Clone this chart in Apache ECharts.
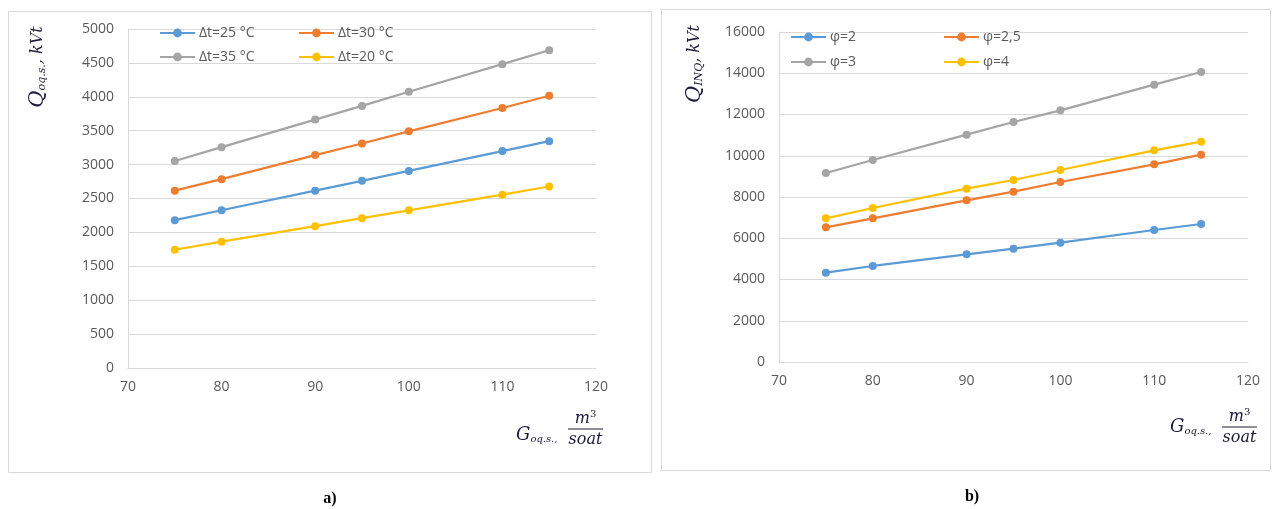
<!DOCTYPE html>
<html>
<head>
<meta charset="utf-8">
<script src="https://cdn.jsdelivr.net/npm/echarts@6/dist/echarts.min.js"></script>
<style>
html,body{margin:0;padding:0;background:#fff;}
#chart{width:1279px;height:509px;}
</style>
</head>
<body>
<div id="chart"></div>
<script>
// ---- data ----
const G = [75, 80, 90, 95, 100, 110, 115];
const xTicks = [70, 80, 90, 100, 110, 120];

// chart a) Q_oq.s., kVt
const namesA = ['Δt=25 °C', 'Δt=30 °C', 'Δt=35 °C', 'Δt=20 °C'];
const dt25 = [2180, 2327, 2616, 2760, 2906, 3199, 3345];
const dt30 = [2616, 2785, 3140, 3311, 3491, 3835, 4015];
const dt35 = [3053, 3257, 3664, 3866, 4074, 4481, 4686];
const dt20 = [1744, 1863, 2092, 2209, 2326, 2557, 2677];

// chart b) Q_INQ, kVt
const namesB = ['φ=2', 'φ=2,5', 'φ=3', 'φ=4'];
const phi2 = [4330, 4655, 5220, 5495, 5786, 6400, 6691];
const phi25 = [6529, 6966, 7838, 8259, 8727, 9584, 10053];
const phi3 = [9164, 9794, 11022, 11636, 12202, 13446, 14061];
const phi4 = [6966, 7467, 8404, 8824, 9309, 10263, 10683];

const colors = ['#5B9BD5', '#ED7D31', '#A5A5A5', '#FFC000'];

function pairs(vals) { return G.map((g, i) => [g, vals[i]]); }

const chart = echarts.init(document.getElementById('chart'));
const font = '"Open Sans", "Liberation Sans", sans-serif';
const serif = '"DejaVu Serif", "Liberation Serif", serif';
const labelColor = '#595959';
const gridColor = '#d9d9d9';
const ink = '#1c1c3a';

function xAxis(gi) {
  return {
    type: 'value', gridIndex: gi, min: 70, max: 120, interval: 10,
    axisLine: { show: true, lineStyle: { color: gridColor, width: 1 } },
    axisTick: { show: false },
    splitLine: { show: false },
    axisLabel: { color: labelColor, fontSize: 14, fontFamily: font, margin: 12,
      formatter: v => (xTicks.indexOf(v) >= 0 ? String(v) : '') }
  };
}
function yAxis(gi, max, interval) {
  return {
    type: 'value', gridIndex: gi, min: 0, max: max, interval: interval,
    axisLine: { show: true, lineStyle: { color: gridColor, width: 1 } },
    axisTick: { show: false },
    splitLine: { show: true, lineStyle: { color: gridColor, width: 1 } },
    axisLabel: { color: labelColor, fontSize: 14, fontFamily: font, margin: 14,
      formatter: v => String(v) }
  };
}
function series(name, vals, idx, gi) {
  return {
    name: name, type: 'line', xAxisIndex: gi, yAxisIndex: gi,
    data: pairs(vals), symbol: 'circle', symbolSize: 8,
    itemStyle: { color: colors[idx] },
    lineStyle: { color: colors[idx], width: 2.25 },
    emphasis: { disabled: true }, animation: false
  };
}
function legend(name, left, top) {
  return {
    data: [name], left: left, top: top, itemWidth: 35, itemHeight: 11, itemGap: 0,
    padding: 0,
    textStyle: { color: labelColor, fontSize: 14, fontFamily: font, padding: [0, 0, 0, -1] },
    selectedMode: false
  };
}

function yTitle(x, y, sub) {
  return {
    type: 'text', x: x, y: y, rotation: Math.PI / 2,
    style: {
      text: '{q|Q}{s|' + sub + '}{n|, kVt}',
      align: 'center', verticalAlign: 'middle',
      fill: ink,
      rich: {
        q: { fontSize: 21, fontStyle: 'italic', fontFamily: serif, fill: ink },
        s: { fontSize: 11, fontStyle: 'italic', fontFamily: serif, fill: ink, padding: [8, 0, 0, 0] },
        n: { fontSize: 16, fontStyle: 'italic', fontFamily: serif, fill: ink }
      }
    }
  };
}
function xTitle(gx, gy, barX, barY, barW) {
  return [
    { type: 'text', x: gx, y: gy, style: {
        text: '{g|G}{s|oq.s.,}', align: 'left', verticalAlign: 'middle', fill: ink,
        rich: {
          g: { fontSize: 18, fontStyle: 'italic', fontFamily: serif, fill: ink },
          s: { fontSize: 10, fontStyle: 'italic', fontFamily: serif, fill: ink, padding: [8, 0, 0, 0] }
        } } },
    { type: 'line', shape: { x1: barX, y1: barY, x2: barX + barW, y2: barY }, style: { stroke: ink, lineWidth: 1.2 } },
    { type: 'text', x: barX + barW / 2, y: barY - 10, style: {
        text: '{m|m}{e|3}', align: 'center', verticalAlign: 'middle', fill: ink,
        rich: {
          m: { fontSize: 16, fontStyle: 'italic', fontFamily: serif, fill: ink },
          e: { fontSize: 10, fontFamily: serif, fill: ink, padding: [0, 0, 10, 0] }
        } } },
    { type: 'text', x: barX + barW / 2, y: barY + 11, style: {
        text: 'soat', align: 'center', verticalAlign: 'middle', fill: ink,
        font: 'italic 16px ' + serif } }
  ];
}

const option = {
  backgroundColor: '#ffffff',
  animation: false,
  grid: [
    { left: 128, top: 29, width: 468, height: 339 },
    { left: 779, top: 32, width: 469, height: 330 }
  ],
  xAxis: [xAxis(0), xAxis(1)],
  yAxis: [yAxis(0, 5000, 500), yAxis(1, 16000, 2000)],
  legend: [
    legend(namesA[0], 159, 26),
    legend(namesA[1], 298, 26),
    legend(namesA[2], 159, 50),
    legend(namesA[3], 298, 50),
    legend(namesB[0], 790, 30),
    legend(namesB[1], 943, 30),
    legend(namesB[2], 790, 55),
    legend(namesB[3], 943, 55)
  ],
  series: [
    series(namesA[0], dt25, 0, 0),
    series(namesA[1], dt30, 1, 0),
    series(namesA[2], dt35, 2, 0),
    series(namesA[3], dt20, 3, 0),
    series(namesB[0], phi2, 0, 1),
    series(namesB[1], phi25, 1, 1),
    series(namesB[2], phi3, 2, 1),
    series(namesB[3], phi4, 3, 1)
  ],
  graphic: [
    { type: 'rect', shape: { x: 8.5, y: 11.5, width: 643, height: 461 }, style: { fill: 'none', stroke: '#d9d9d9', lineWidth: 1 }, z: -1 },
    { type: 'rect', shape: { x: 661.5, y: 9.5, width: 609, height: 461 }, style: { fill: 'none', stroke: '#d9d9d9', lineWidth: 1 }, z: -1 },
    yTitle(38, 67, 'oq.s.'),
    yTitle(695, 64, 'INQ'),
    ...xTitle(516, 435, 568, 429, 35),
    ...xTitle(1170, 427, 1222, 427, 35),
    { type: 'text', x: 330, y: 499, style: { text: 'a)', align: 'center', verticalAlign: 'middle', font: 'bold 16px "Liberation Serif", serif', fill: '#000' } },
    { type: 'text', x: 972, y: 497, style: { text: 'b)', align: 'center', verticalAlign: 'middle', font: 'bold 16px "Liberation Serif", serif', fill: '#000' } }
  ]
};
chart.setOption(option);
</script>
</body>
</html>
